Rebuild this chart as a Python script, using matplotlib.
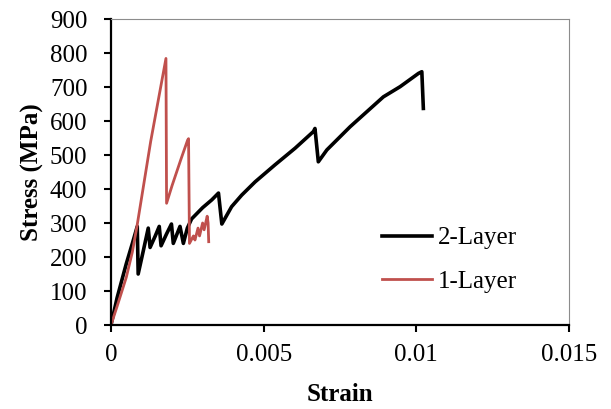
import matplotlib
matplotlib.use("Agg")
import matplotlib.pyplot as plt

# ── data ───────────────────────────────────────────────────────────────
strain_2layer = [0, 0.00020, 0.00050, 0.00070, 0.00086, 0.00089, 0.00105, 0.00122,
                 0.00128, 0.00145, 0.00158, 0.00164, 0.00182, 0.00198, 0.00204,
                 0.00226, 0.00237, 0.00250, 0.00264, 0.00300, 0.00330, 0.00352,
                 0.00363, 0.00395, 0.00428, 0.00472, 0.00537, 0.00603, 0.00663,
                 0.00668, 0.00679, 0.00707, 0.00783, 0.00892, 0.00947, 0.01007,
                 0.01018, 0.01023]
stress_2layer = [0, 80, 180, 240, 290, 150, 215, 285,
                 228, 262, 290, 233, 268, 297, 240,
                 290, 240, 285, 312, 345, 368, 388,
                 297, 348, 382, 421, 471, 520, 569,
                 578, 480, 515, 583, 671, 701, 740,
                 745, 637]

strain_1layer = [0, 0.00020, 0.00050, 0.00070, 0.00085, 0.00130, 0.00180, 0.00182,
                 0.00200, 0.00230, 0.00251, 0.00254, 0.00257, 0.00270, 0.00275,
                 0.00285, 0.00290, 0.00300, 0.00305, 0.00315, 0.00318, 0.00320]
stress_1layer = [0, 55, 140, 215, 290, 540, 784, 358,
                 410, 490, 544, 548, 240, 262, 250,
                 285, 262, 300, 280, 320, 300, 245]

x_ticks = [0, 0.005, 0.01, 0.015]
x_tick_labels = ["0", "0.005", "0.01", "0.015"]
y_ticks = list(range(0, 901, 100))

plt.rcParams["font.family"] = ["Liberation Serif", "DejaVu Serif"]
plt.rcParams["font.size"] = 18

fig = plt.figure(figsize=(6.11, 4.09), dpi=100)
ax = fig.add_axes([111 / 611, 1 - 325 / 409, (569 - 111) / 611, (325 - 19) / 409])

ax.plot(strain_2layer, stress_2layer, color="black", lw=2.6, label="2-Layer")
ax.plot(strain_1layer, stress_1layer, color="#C0504D", lw=2.0, label="1-Layer")

ax.set_xlim(0, 0.015)
ax.set_ylim(0, 900)
ax.set_xticks(x_ticks)
ax.set_xticklabels(x_tick_labels)
ax.set_yticks(y_ticks)

for side in ["left", "bottom"]:
    ax.spines[side].set_color("black")
    ax.spines[side].set_linewidth(1.6)
for side in ["top", "right"]:
    ax.spines[side].set_color("#8c8c8c")
    ax.spines[side].set_linewidth(0.8)

ax.tick_params(axis="y", direction="out", length=5, width=1.5, pad=12)
ax.tick_params(axis="x", direction="out", length=5, width=1.5, pad=9)

ax.set_xlabel("Strain", fontweight="bold", labelpad=12)
ax.set_ylabel("Stress (MPa)", fontweight="bold", labelpad=4)

fig.legend(loc="upper left", bbox_to_anchor=(382 / 611, 1 - 227 / 409),
           frameon=False, borderpad=0, borderaxespad=0,
           handlelength=2.0, handletextpad=0.25, labelspacing=0.83)

fig.savefig("out.png", dpi=100)
